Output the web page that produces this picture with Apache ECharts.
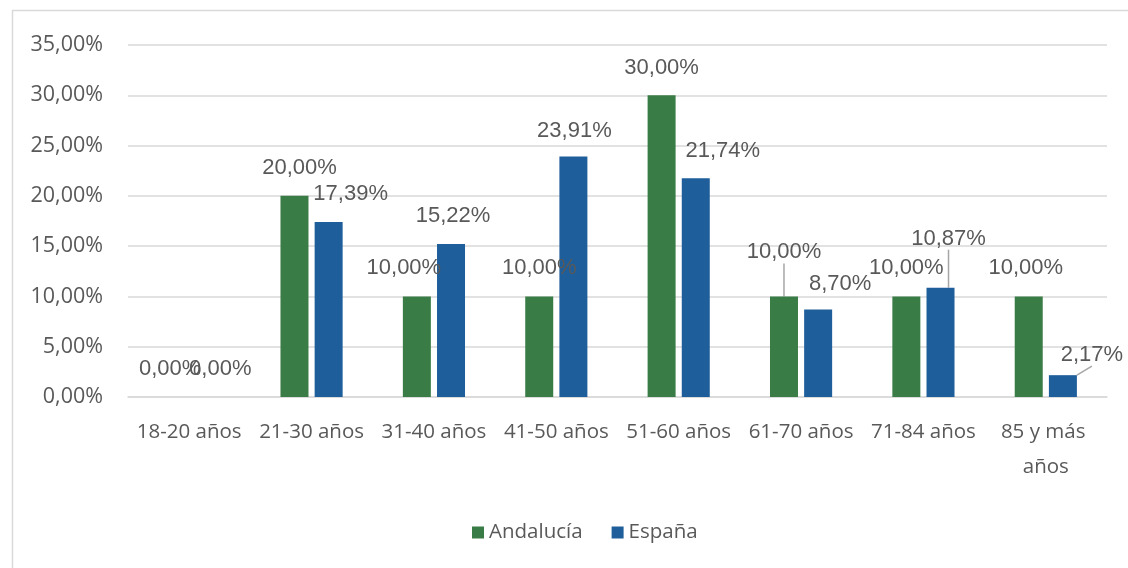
<!DOCTYPE html>
<html>
<head>
<meta charset="utf-8">
<script src="https://cdn.jsdelivr.net/npm/echarts@6/dist/echarts.min.js"></script>
<style>html,body{margin:0;padding:0;background:#fff}#c{width:1128px;height:568px}</style>
</head>
<body>
<div id="c"></div>
<script>
const categories = ['18-20 años', '21-30 años', '31-40 años', '41-50 años', '51-60 años', '61-70 años', '71-84 años', '85 y más años'];
const andalucia = [0, 20, 10, 10, 30, 10, 10, 10];
const espana = [0, 17.39, 15.22, 23.91, 21.74, 8.70, 10.87, 2.17];
const yTicks = [0, 5, 10, 15, 20, 25, 30, 35];

// label nudges (layout only)
const nudgeA = [[-2, 0], [5, 0], [-13, 0], [0, 0], [0, 1], [0, -16], [0, 0], [-3, 0]];
const nudgeE = [[14, 0], [22, 0], [2, 0], [1, 2], [27, 1], [22, 2], [8, -21], [29, 8]];
const lineA = [false, false, false, false, false, true, false, false];
const lineE = [false, false, false, false, false, false, true, true];

const fmt = v => v.toFixed(2).replace('.', ',') + '%';
const txt = '#595959';

const labelStyle = {
  show: true, position: 'top', distance: 17,
  fontFamily: '"Liberation Sans", Arial, sans-serif', fontSize: 22, lineHeight: 22,
  color: txt, formatter: p => fmt(p.value)
};

function mk(vals, lines) {
  return vals.map((v, i) => ({ value: v, labelLine: { show: lines[i] } }));
}

const chart = echarts.init(document.getElementById('c'), null, { renderer: 'canvas' });
chart.setOption({
  animation: false,
  backgroundColor: '#fff',
  graphic: [{
    type: 'rect', shape: { x: 12.5, y: 10.5, width: 1300, height: 700 },
    style: { fill: 'none', stroke: '#d9d9d9', lineWidth: 1.5 }, silent: true, z: -10
  }],
  grid: { left: 128, right: 21, top: 45, bottom: 171, containLabel: false },
  legend: {
    data: ['Andalucía', 'España'], left: 467, top: 517,
    itemWidth: 12, itemHeight: 12, itemGap: 29, icon: 'rect',
    textStyle: { fontFamily: '"Open Sans", sans-serif', fontSize: 20.5, color: txt }
  },
  xAxis: {
    type: 'category', data: categories,
    axisLine: { lineStyle: { color: '#d9d9d9', width: 1.5 } },
    axisTick: { show: false },
    axisLabel: {
      interval: 0, margin: 18, color: txt, fontFamily: '"Open Sans", sans-serif', fontSize: 20.5,
      lineHeight: 35, width: 118, overflow: 'break'
    }
  },
  yAxis: {
    type: 'value', min: yTicks[0], max: yTicks[yTicks.length - 1], interval: 5,
    axisLine: { show: false }, axisTick: { show: false },
    splitLine: { lineStyle: { color: '#d9d9d9', width: 1.5 } },
    axisLabel: { margin: 25, color: txt, fontFamily: '"Open Sans", sans-serif', fontSize: 21.5, formatter: fmt }
  },
  series: [
    {
      name: 'Andalucía', type: 'bar', data: mk(andalucia, lineA),
      barWidth: 28, barGap: '22%',
      itemStyle: { color: '#397c45' },
      label: labelStyle,
      labelLine: { lineStyle: { color: '#a6a6a6', width: 1.5 } },
      labelLayout: p => ({ dx: nudgeA[p.dataIndex][0], dy: nudgeA[p.dataIndex][1] })
    },
    {
      name: 'España', type: 'bar', data: mk(espana, lineE),
      barWidth: 28, barGap: '22%',
      itemStyle: { color: '#1e5e9a' },
      label: labelStyle,
      labelLine: { lineStyle: { color: '#a6a6a6', width: 1.5 } },
      labelLayout: p => ({ dx: nudgeE[p.dataIndex][0], dy: nudgeE[p.dataIndex][1] })
    }
  ]
});
</script>
</body>
</html>
